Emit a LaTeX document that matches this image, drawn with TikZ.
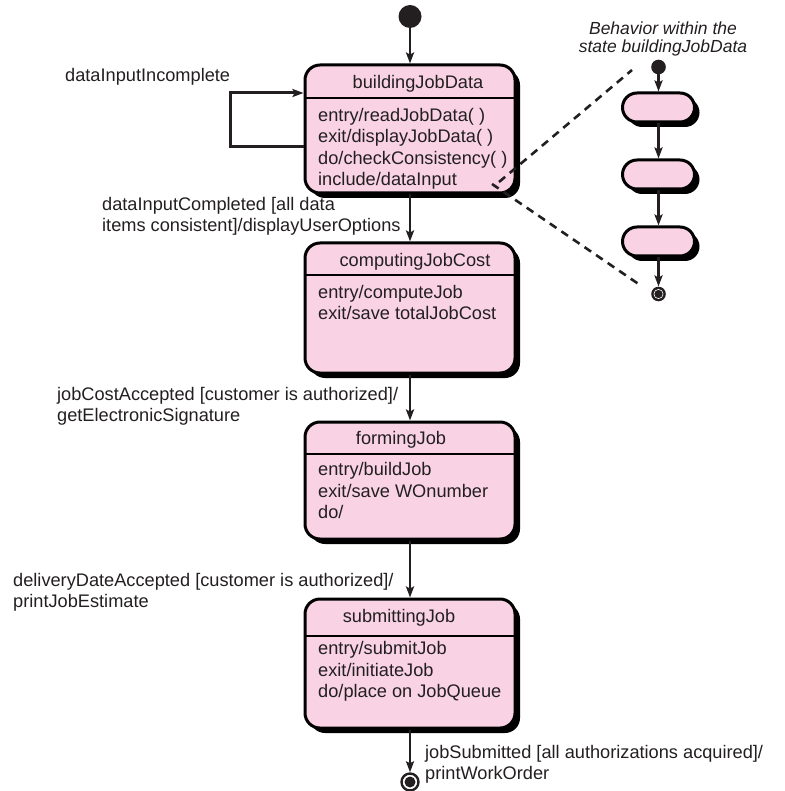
\documentclass[tikz,border=0pt]{standalone}
\usepackage{fontspec}
\setmainfont{Liberation Sans}
\usetikzlibrary{arrows.meta,shadows,shapes.misc,calc}
\definecolor{statepink}{RGB}{249,211,228}
\definecolor{ink}{RGB}{35,31,32}
\begin{document}
\begin{tikzpicture}[x=1pt,y=-1pt,
  shadowed/.style={drop shadow={shadow xshift=5pt,shadow yshift=-5pt,fill=black,opacity=1}},
  statebox/.style={draw=black,line width=3pt,fill=statepink,rounded corners=15pt,
    minimum width=210pt,inner sep=0pt,shadowed},
  pill/.style={rounded rectangle,draw=black,line width=3pt,fill=statepink,
    minimum width=72pt,minimum height=29pt,inner sep=0pt,shadowed},
  divider/.style={draw=black,line width=2.4pt},
  arr/.style={draw=ink,line width=2.4pt,-{Stealth[length=11pt,width=8pt,inset=2pt]}},
  loopline/.style={draw=ink,line width=3pt,-{Stealth[length=11pt,width=8pt,inset=2pt]}},
  dashline/.style={draw=ink,line width=2.6pt,dash pattern=on 8pt off 6pt},
  txt/.style={font=\fontsize{18.2}{21.3}\selectfont,text=ink,inner sep=0pt,align=left},
  lbl/.style={font=\fontsize{18.2}{21}\selectfont,text=ink,inner sep=0pt,align=left,anchor=base west},
  caption/.style={font=\itshape\fontsize{17.5}{18.5}\selectfont,text=ink,inner sep=0pt,align=center,anchor=base},
  initdot/.style={circle,fill=ink,inner sep=0pt},
]
\useasboundingbox (0,0) rectangle (784,791);

% ---------- main states ----------
\node[initdot,minimum size=23pt] (init) at (410,16.5) {};

\node[statebox,minimum height=128pt] (b1) at (410,129) {};
\draw[divider] (b1.west |- 0,98) -- (b1.east |- 0,98);
\node[txt,anchor=base] (b1h) at (418,89) {buildingJobData};
\node[txt,anchor=base west] (b1t) at (318,185.5) {entry/readJobData( )\\exit/displayJobData( )\\do/checkConsistency( )\\include/dataInput};

\node[statebox,minimum height=130pt] (b2) at (410,308) {};
\draw[divider] (b2.west |- 0,275) -- (b2.east |- 0,275);
\node[txt,anchor=base] (b2h) at (415,266) {computingJobCost};
\node[txt,anchor=base west] (b2t) at (318,319.5) {entry/computeJob\\exit/save totalJobCost};

\node[statebox,minimum height=117pt] (b3) at (410,480.5) {};
\draw[divider] (b3.west |- 0,454) -- (b3.east |- 0,454);
\node[txt,anchor=base] (b3h) at (401,444) {formingJob};
\node[txt,anchor=base west] (b3t) at (318,518.5) {entry/buildJob\\exit/save WOnumber\\do/};

\node[statebox,minimum height=129pt] (b4) at (410,663.5) {};
\draw[divider] (b4.west |- 0,636) -- (b4.east |- 0,636);
\node[txt,anchor=base] (b4h) at (399,622) {submittingJob};
\node[txt,anchor=base west] (b4t) at (318,697.5) {entry/submitJob\\exit/initiateJob\\do/place on JobQueue};

\node[circle,draw=ink,line width=2.4pt,fill=white,minimum size=17pt,inner sep=0pt] (fin) at (410,782) {};
\node[initdot,minimum size=11pt] (finin) at (fin.center) {};

% ---------- transitions ----------
\draw[arr] (init) -- (init |- b1.north);
\draw[arr] (b1.south -| init) -- (b2.north -| init);
\draw[arr] (b2.south -| init) -- (b3.north -| init);
\draw[arr] (b3.south -| init) -- (b4.north -| init);
\draw[arr] (b4.south -| init) -- (fin);

\coordinate (lp1) at (230,147);
\coordinate (lp2) at (230,93);
\draw[loopline] (b1.west |- lp1) -- (lp1) -- (lp2) -- (b1.west |- lp2);

% ---------- labels ----------
\node[lbl] (l0) at (65,82) {dataInputIncomplete};
\node[lbl] (l1) at (102,231.5) {dataInputCompleted [all data\\items consistent]/displayUserOptions};
\node[lbl] (l2) at (57,421.5) {jobCostAccepted [customer is authorized]/\\getElectronicSignature};
\node[lbl] (l3) at (13,607) {deliveryDateAccepted [customer is authorized]/\\printJobEstimate};
\node[lbl] (l4) at (425,779) {jobSubmitted [all authorizations acquired]/\\printWorkOrder};

% ---------- nested behaviour ----------
\node[caption] (cap) at (663,53) {Behavior within the\\state buildingJobData};
\node[initdot,minimum size=14.6pt] (sinit) at (658.5,67) {};
\node[pill] (p1) at (658.5,107.5) {};
\node[pill] (p2) at (658.5,174.5) {};
\node[pill] (p3) at (658.5,241.5) {};
\node[initdot,minimum size=14.6pt] (sfin) at (658.5,294) {};
\draw[white,line width=0.6pt] (sfin.center) circle (4.6pt);
\draw[arr] (sinit) -- (p1);
\draw[arr] (p1) -- (p2);
\draw[arr] (p2) -- (p3);
\draw[arr] (p3) -- (sfin);

\coordinate (d1s) at (499,182);
\coordinate (d1e) at (632,70);
\coordinate (d2s) at (492,184);
\coordinate (d2e) at (640,285);
\draw[dashline] (d1s) -- (d1e);
\draw[dashline] (d2s) -- (d2e);
\end{tikzpicture}
\end{document}
